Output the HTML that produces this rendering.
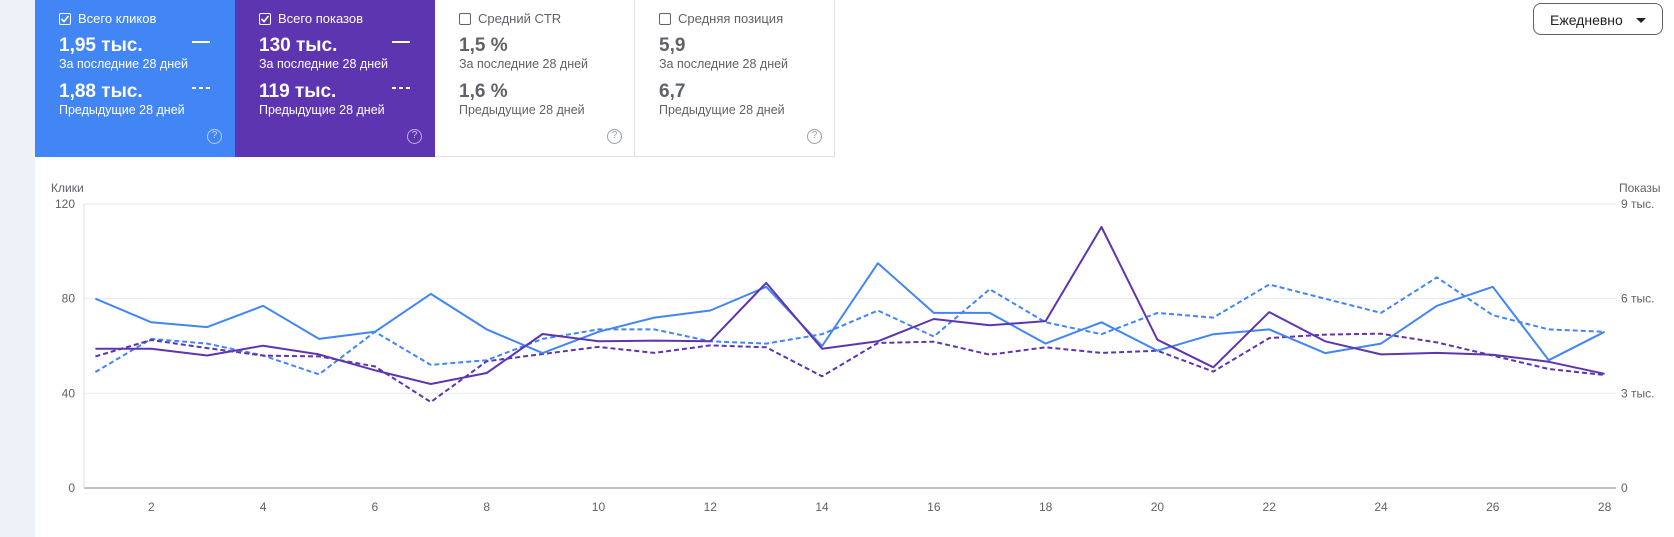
<!DOCTYPE html>
<html><head><meta charset="utf-8">
<style>
*{margin:0;padding:0;box-sizing:border-box}
body{width:1674px;height:537px;background:#fff;font-family:"Liberation Sans",Arial,sans-serif;position:relative;overflow:hidden}
.strip{position:absolute;left:0;top:0;width:35px;height:537px;background:#eef2f8}
.panel{position:absolute;left:35px;top:0;width:1639px;height:535px;background:#fff;border-bottom-left-radius:8px}
.card{position:absolute;top:0;width:200px;height:157px;color:#fff}
.card.off{color:#5f6368;border-right:1px solid #e0e0e0;border-bottom:1px solid #e0e0e0}
.cb{position:absolute;left:24px;top:13px;width:12px;height:12px;border:1.5px solid #fff;border-radius:2px}
.off .cb{border-color:#5f6368}
.cb svg{position:absolute;left:0;top:0}
.lbl{position:absolute;left:43px;top:11px;font-size:13px}
.val{position:absolute;left:24px;font-size:19px;font-weight:bold}
.sub{position:absolute;left:24px;font-size:12.5px}
.dash{position:absolute;left:157px;width:18px;height:2px}
.help{position:absolute;left:172px;top:129px;width:15px;height:15px;border:1.5px solid rgba(255,255,255,.6);border-radius:50%;font-size:10px;text-align:center;line-height:12px;color:rgba(255,255,255,.7)}
.off .help{border-color:#9aa0a6;color:#9aa0a6}
.dd{position:absolute;left:1533px;top:3px;width:130px;height:32px;border:1px solid #5f6368;border-radius:8px;font-size:14px;color:#202124;padding:8px 0 0 16px}
.dd span{position:absolute;right:16px;top:14px;width:0;height:0;border-left:5px solid transparent;border-right:5px solid transparent;border-top:5px solid #202124}
</style></head><body>
<div class="strip"></div>
<div class="panel"></div>

<div class="card" style="left:35px;background:#4285f4">
 <div class="cb"><svg width="10" height="10" viewBox="0 0 10 10"><path d="M1.5 5 L4 7.5 L8.5 2" stroke="#fff" stroke-width="1.6" fill="none"/></svg></div>
 <div class="lbl">Всего кликов</div>
 <div class="val" style="top:35px">1,95 тыс.</div>
 <div class="dash" style="top:41px;background:#fff"></div>
 <div class="sub" style="top:57px">За последние 28 дней</div>
 <div class="val" style="top:81px">1,88 тыс.</div>
 <div class="dash" style="top:87px;background:repeating-linear-gradient(90deg,#fff 0 4px,transparent 4px 7px)"></div>
 <div class="sub" style="top:103px">Предыдущие 28 дней</div>
 <div class="help">?</div>
</div>

<div class="card" style="left:235px;background:#5e35b1">
 <div class="cb"><svg width="10" height="10" viewBox="0 0 10 10"><path d="M1.5 5 L4 7.5 L8.5 2" stroke="#fff" stroke-width="1.6" fill="none"/></svg></div>
 <div class="lbl">Всего показов</div>
 <div class="val" style="top:35px">130 тыс.</div>
 <div class="dash" style="top:41px;background:#fff"></div>
 <div class="sub" style="top:57px">За последние 28 дней</div>
 <div class="val" style="top:81px">119 тыс.</div>
 <div class="dash" style="top:87px;background:repeating-linear-gradient(90deg,#fff 0 4px,transparent 4px 7px)"></div>
 <div class="sub" style="top:103px">Предыдущие 28 дней</div>
 <div class="help">?</div>
</div>

<div class="card off" style="left:435px">
 <div class="cb"></div>
 <div class="lbl">Средний CTR</div>
 <div class="val" style="top:35px">1,5 %</div>
 <div class="sub" style="top:57px">За последние 28 дней</div>
 <div class="val" style="top:81px">1,6 %</div>
 <div class="sub" style="top:103px">Предыдущие 28 дней</div>
 <div class="help">?</div>
</div>

<div class="card off" style="left:635px">
 <div class="cb"></div>
 <div class="lbl">Средняя позиция</div>
 <div class="val" style="top:35px">5,9</div>
 <div class="sub" style="top:57px">За последние 28 дней</div>
 <div class="val" style="top:81px">6,7</div>
 <div class="sub" style="top:103px">Предыдущие 28 дней</div>
 <div class="help">?</div>
</div>

<div class="dd">Ежедневно<span></span></div>

<svg id="chart" width="1674" height="537" style="position:absolute;left:0;top:0"></svg>

<script>
const days = [1,2,3,4,5,6,7,8,9,10,11,12,13,14,15,16,17,18,19,20,21,22,23,24,25,26,27,28];
const clicksCurrent = [80,70,68,77,63,66,82,67,57,66,72,75,85,60,95,74,74,61,70,58,65,67,57,61,77,85,54,66];
const clicksPrevious = [49,63,61,56,48,66,52,54,63,67,67,62,61,65,75,64,84,70,65,74,72,86,80,74,89,73,67,66];
const impressionsCurrent = [4415,4415,4200,4510,4235,3730,3295,3645,4880,4650,4670,4650,6500,4415,4650,5355,5155,5290,8270,4700,3825,5575,4650,4235,4280,4225,4000,3620];
const impressionsPrevious = [4170,4690,4435,4195,4170,3855,2725,4015,4245,4470,4280,4520,4460,3540,4595,4635,4225,4460,4280,4350,3690,4750,4860,4890,4615,4195,3770,3580];
const leftTicks = [0,40,80,120];
const rightTicks = [0,3000,6000,9000];
const rightTickLabels = ["0","3 тыс.","6 тыс.","9 тыс."];
const xTicks = [2,4,6,8,10,12,14,16,18,20,22,24,26,28];

const svg = document.getElementById('chart');
const NS = 'http://www.w3.org/2000/svg';
const X0 = 84, X1 = 1616, Y0 = 488, Y1 = 204;
const xScale = d => 95.4 + (d - 1) * (1604.6 - 95.4) / 27;
const yLeft = v => Y0 - v / 120 * (Y0 - Y1);
const yRight = v => Y0 - v / 9000 * (Y0 - Y1);
function mk(tag, attrs){const e=document.createElementNS(NS,tag);for(const k in attrs)e.setAttribute(k,attrs[k]);svg.appendChild(e);return e;}

leftTicks.forEach((t,i)=>{
  const y=yLeft(t);
  const g=mk('line',{x1:X0,x2:X1,y1:y,y2:y,stroke:t===0?'#80868b':'#e8eaed','stroke-width':1});
  
  
  const l=mk('text',{x:X0-9,y:y+4,'text-anchor':'end','font-size':12,fill:'#5f6368'});
  l.textContent=t;
  
  
});
rightTicks.forEach((t,i)=>{
  const l=mk('text',{x:X1+5,y:yRight(t)+4,'font-size':12,fill:'#5f6368'});
  l.textContent=rightTickLabels[i];
  
  
});
const ax=mk('line',{x1:X0,x2:X0,y1:Y1,y2:Y0,stroke:'#dadce0'});


xTicks.forEach(d=>{
  const l=mk('text',{x:xScale(d),y:511,'text-anchor':'middle','font-size':12,fill:'#5f6368'});
  l.textContent=d;
  
  
});
const lt=mk('text',{x:51,y:192,'font-size':12,fill:'#5f6368'});lt.textContent='Клики';


const rt=mk('text',{x:1619,y:192,'font-size':12,fill:'#5f6368'});rt.textContent='Показы';



function series(vals, yf, color, dashed, name){
  const pts=vals.map((v,i)=>xScale(days[i]).toFixed(1)+','+yf(v).toFixed(1)).join(' ');
  const p=mk('polyline',{points:pts,fill:'none',stroke:color,'stroke-width':2,'stroke-linejoin':'round'});
  if(dashed)p.setAttribute('stroke-dasharray','5,3');
  
  
}
series(clicksPrevious,yLeft,'#4285f4',true,'clicks-previous-line');
series(impressionsPrevious,yRight,'#5e35b1',true,'impressions-previous-line');
series(clicksCurrent,yLeft,'#4285f4',false,'clicks-current-line');
series(impressionsCurrent,yRight,'#5e35b1',false,'impressions-current-line');
</script>
</body></html>
